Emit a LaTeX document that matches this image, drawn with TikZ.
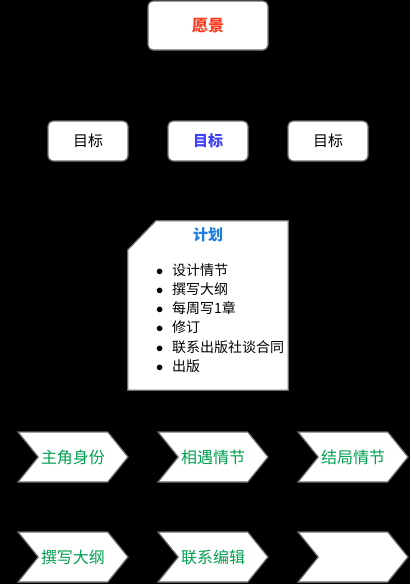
\documentclass[tikz,border=0pt]{standalone}
\usepackage{fontspec}
\setmainfont{Noto Sans CJK SC}
\usetikzlibrary{positioning,shapes.symbols}
\definecolor{edgegray}{HTML}{6E6E6E}
\definecolor{visionred}{HTML}{FF3A1E}
\definecolor{goalblue}{HTML}{4040FF}
\definecolor{planblue}{HTML}{1E7FE0}
\definecolor{stepgreen}{HTML}{00A050}

\begin{document}
\begin{tikzpicture}[
    x=1pt, y=-1pt,
    roundbox/.style={draw=edgegray, line width=1.2pt, fill=white, rounded corners=5pt, minimum width=80pt, minimum height=40pt, inner sep=0pt, align=center, font=\fontsize{15}{18}\selectfont},
    chevron/.style={signal, signal from=west, signal to=east, signal pointer angle=102, draw=edgegray, line width=1.2pt, fill=white, minimum width=110pt, minimum height=50pt, inner sep=0pt, text=stepgreen, font=\fontsize{16}{18}\selectfont},
    listitem/.style={anchor=west, inner sep=0pt, font=\fontsize{14}{16}\selectfont},
]

% --- background ---
\fill[black] (0,0) rectangle (410,584);

% --- vision and goals ---
\node[roundbox, minimum width=120pt, minimum height=49pt, text=visionred, font=\fontsize{16}{18}\selectfont\bfseries] (vision) at (208,25.5) {愿景};
\node[roundbox] (goalA) at (88,141) {目标};
\node[roundbox, text=goalblue, font=\fontsize{15}{18}\selectfont\bfseries] (goalB) at (208,141) {目标};
\node[roundbox] (goalC) at (328,141) {目标};

% --- plan ---
\node[minimum width=160pt, minimum height=169pt, inner sep=0pt] (plan) at (208,305.5) {};
\draw[draw=edgegray, line width=1.2pt, fill=white] ([yshift=-29pt]plan.north west) -- ([xshift=28pt]plan.north west) -- (plan.north east) -- (plan.south east) -- (plan.south west) -- cycle;
\node[text=planblue, inner sep=0pt, font=\fontsize{15}{18}\selectfont\bfseries] (plantitle) at (208,235) {计划};
\foreach \task [count=\i] in {设计情节,撰写大纲,每周写1章,修订,联系出版社谈合同,出版}
    \node[listitem] (task\i) at (156,250.8+19.2*\i) {\makebox[16pt][l]{$\bullet$}\task};

% --- story steps ---
\node[chevron] (roleA) at (73,457) {主角身份};
\node[chevron] (roleB) at (213,457) {相遇情节};
\node[chevron] (roleC) at (353,457) {结局情节};

\node[chevron] (workA) at (73,557) {撰写大纲};
\node[chevron] (workB) at (213,557) {联系编辑};
\node[chevron] (workC) at (353,557) {};

\end{tikzpicture}
\end{document}
